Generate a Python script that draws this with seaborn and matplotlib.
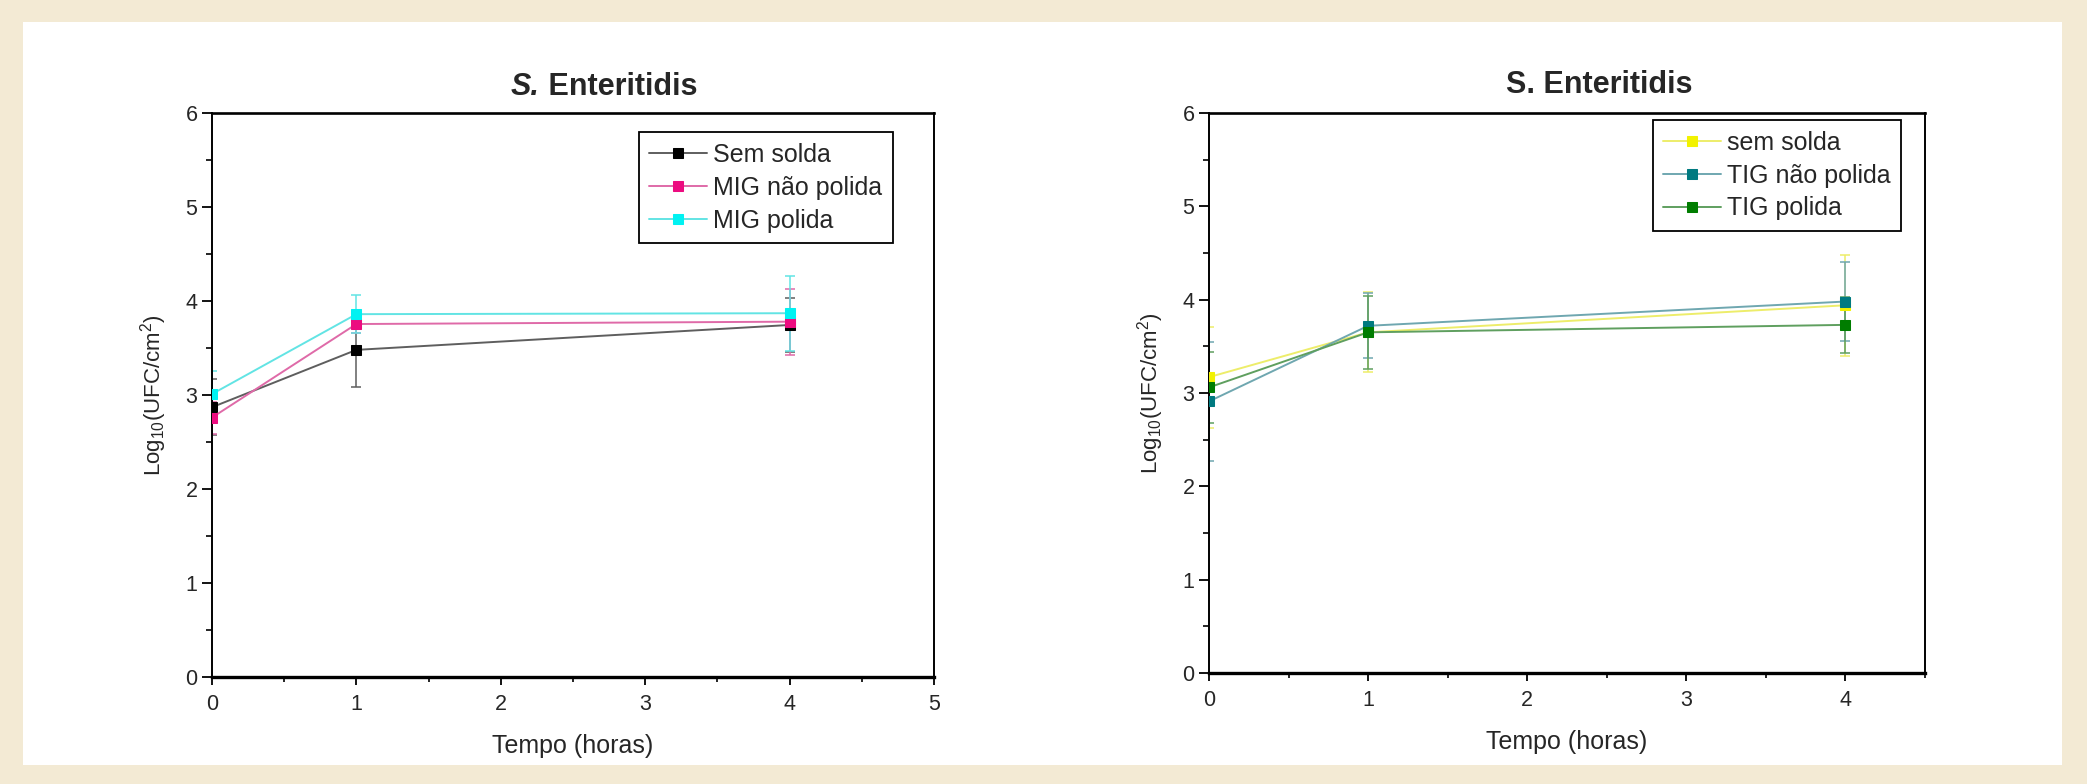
import matplotlib
matplotlib.use("Agg")
import matplotlib.pyplot as plt
from matplotlib.ticker import MultipleLocator
from matplotlib.patches import Rectangle
import seaborn as sns
import pandas as pd

# ---------------- data ----------------
tempo = [0, 1, 4]

left_names = ["Sem solda", "MIG não polida", "MIG polida"]
left_sem_solda = [2.87, 3.48, 3.745]
left_sem_solda_err = [0.30, 0.39, 0.29]
left_mig_nao_polida = [2.76, 3.755, 3.78]
left_mig_nao_polida_err = [0.17, 0.10, 0.35]
left_mig_polida = [3.01, 3.86, 3.87]
left_mig_polida_err = [0.25, 0.20, 0.40]

right_names = ["sem solda", "TIG não polida", "TIG polida"]
right_sem_solda = [3.17, 3.65, 3.94]
right_sem_solda_err = [0.54, 0.43, 0.54]
right_tig_nao_polida = [2.91, 3.72, 3.98]
right_tig_nao_polida_err = [0.64, 0.35, 0.42]
right_tig_polida = [3.06, 3.65, 3.73]
right_tig_polida_err = [0.38, 0.39, 0.30]

title_text = "Enteritidis"
xlabel_text = "Tempo (horas)"
ylabel_text = r"Log$_{10}$(UFC/cm$^{2}$)"

left_line_colors = ["#5e5e5e", "#df6aa8", "#62e4e4"]
left_marker_colors = ["#000000", "#ec0c80", "#00f2f2"]
right_line_colors = ["#eded6a", "#6fa7b0", "#5f9f5f"]
right_marker_colors = ["#f2f200", "#007a80", "#007d00"]

# ---------------- style ----------------
sns.set_theme(style="ticks")
REG = ["Liberation Sans", "DejaVu Sans"]
plt.rcParams["font.family"] = REG
plt.rcParams["mathtext.fontset"] = "custom"
plt.rcParams["mathtext.rm"] = "Liberation Sans"
plt.rcParams["mathtext.it"] = "Liberation Sans:italic"
plt.rcParams["mathtext.bf"] = "Liberation Sans:bold"

W, H = 2087, 784
fig = plt.figure(figsize=(W / 100, H / 100), dpi=100)
fig.patch.set_facecolor("#f3ead4")
fig.patches.append(Rectangle((23 / W, 1 - 765 / H), (2062 - 23) / W, (765 - 22) / H,
                             transform=fig.transFigure, facecolor="white",
                             edgecolor="none", zorder=-10))


def px_axes(x0, x1, ytop, ybot):
    return fig.add_axes([x0 / W, 1 - ybot / H, (x1 - x0) / W, (ybot - ytop) / H])


ax1 = px_axes(212, 934, 113, 677)
ax2 = px_axes(1209, 1925, 113, 673)


def draw_panel(ax, names, series, errs, lcols, mcols, xmax, xticks):
    frames = []
    for n, s in zip(names, series):
        frames.append(pd.DataFrame({"tempo": tempo, "valor": s, "serie": n}))
    df = pd.concat(frames, ignore_index=True)
    for n, s, e, lc, mc in zip(names, series, errs, lcols, mcols):
        ax.errorbar(tempo, s, yerr=e, fmt="none", ecolor=lc, elinewidth=1.1,
                    capsize=3.5, capthick=1.1, zorder=2)
        sub = df[df["serie"] == n]
        sns.lineplot(data=sub, x="tempo", y="valor", ax=ax, color=lc,
                     linewidth=1.4, marker="s", markersize=7.5,
                     markerfacecolor=mc, markeredgecolor=mc, label=n,
                     zorder=3, legend=False)
    ax.set_xlim(0, xmax)
    ax.set_ylim(0, 6)
    ax.set_xticks(xticks)
    ax.set_yticks(range(0, 7))
    ax.xaxis.set_minor_locator(MultipleLocator(0.5))
    ax.yaxis.set_minor_locator(MultipleLocator(0.5))
    ax.tick_params(axis="both", which="major", direction="out",
                   width=1.3, color="black", labelsize=15.5, top=False, right=False)
    ax.tick_params(axis="both", which="minor", direction="out",
                   width=1.2, color="black", top=False, right=False)
    ax.tick_params(axis="y", which="major", length=7.5, pad=3)
    ax.tick_params(axis="y", which="minor", length=4.5)
    ax.tick_params(axis="x", which="major", length=6, pad=6)
    ax.tick_params(axis="x", which="minor", length=3.5)
    for sp in ax.spines.values():
        sp.set_color("black")
        sp.set_linewidth(1.4)
    ax.spines["bottom"].set_linewidth(2.4)
    ax.spines["top"].set_linewidth(1.9)
    ax.set_xlabel(xlabel_text, fontsize=18, labelpad=14)
    ax.set_ylabel(ylabel_text, fontsize=16, labelpad=12)
    ax.set_facecolor("white")


draw_panel(ax1, left_names,
           [left_sem_solda, left_mig_nao_polida, left_mig_polida],
           [left_sem_solda_err, left_mig_nao_polida_err, left_mig_polida_err],
           left_line_colors, left_marker_colors, 5, [0, 1, 2, 3, 4, 5])
draw_panel(ax2, right_names,
           [right_sem_solda, right_tig_nao_polida, right_tig_polida],
           [right_sem_solda_err, right_tig_nao_polida_err, right_tig_polida_err],
           right_line_colors, right_marker_colors, 4.5, [0, 1, 2, 3, 4])

leg_kw = dict(fontsize=18, frameon=True, fancybox=False, edgecolor="black",
              handlelength=2.3, handletextpad=0.25, labelspacing=0.36,
              borderpad=0.42, borderaxespad=0.0, framealpha=1)
lg1 = ax1.legend(loc="upper left", bbox_to_anchor=(0.591, 0.966), **leg_kw)
lg2 = ax2.legend(loc="upper left", bbox_to_anchor=(0.62, 0.9875), **leg_kw)
for lg in (lg1, lg2):
    lg.get_frame().set_linewidth(1.3)

# titles
t1 = fig.text(511 / W, 1 - 95 / H, "S.", fontsize=22, fontweight="bold",
              fontstyle="italic", ha="left", va="baseline")
ax1.annotate(" " + title_text, xy=(1, 0), xycoords=t1, fontsize=22,
             fontweight="bold", ha="left", va="bottom", annotation_clip=False)
fig.text(1599 / W, 1 - 93 / H, "S. " + title_text, fontsize=22,
         fontweight="bold", ha="center", va="baseline")

fig.savefig("out.png", dpi=100, facecolor=fig.get_facecolor())
